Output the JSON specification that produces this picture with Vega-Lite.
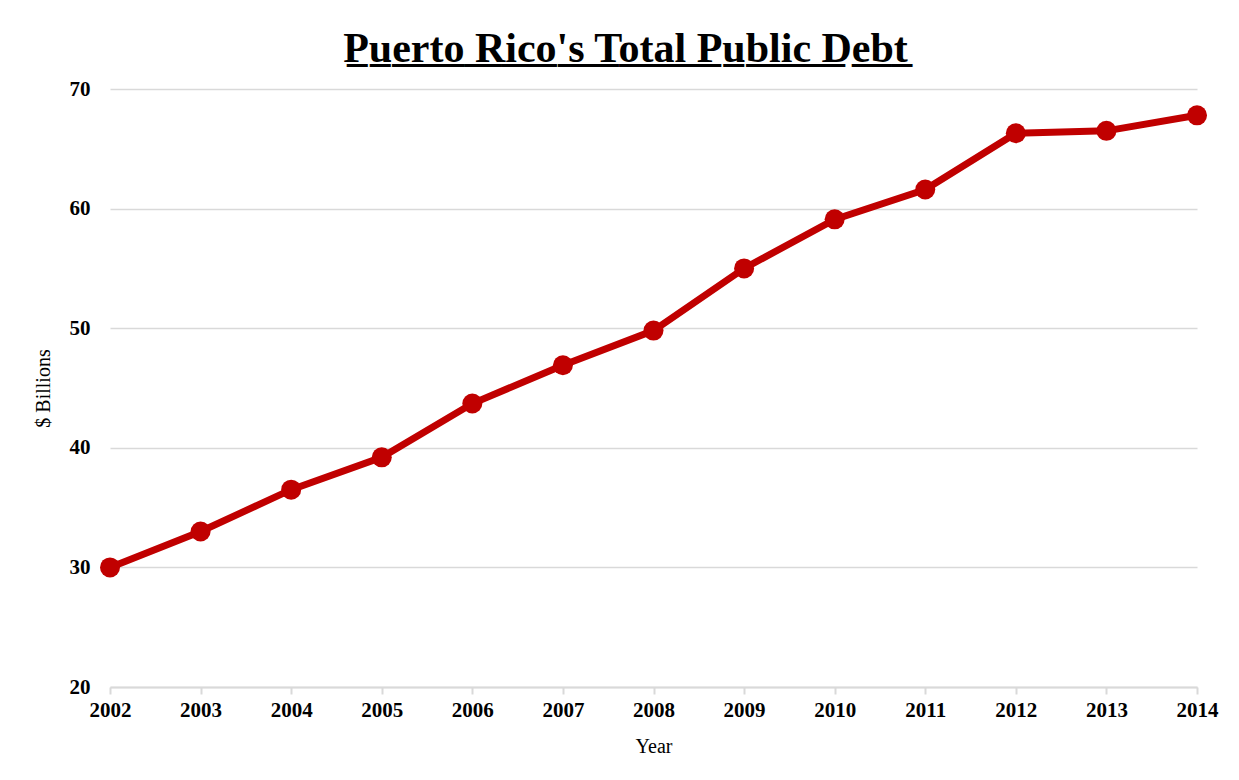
{
  "$schema": "https://vega.github.io/schema/vega-lite/v6.json",
  "width": 1087,
  "height": 598,
  "autosize": {"type": "none"},
  "padding": {"left": 110, "top": 89, "right": 42, "bottom": 93},
  "background": "white",
  "title": {
    "text": "P̲u̲e̲r̲t̲o̲ ̲R̲i̲c̲o̲'̲s̲ ̲T̲o̲t̲a̲l̲ ̲P̲u̲b̲l̲i̲c̲ ̲D̲e̲b̲t̲",
    "font": "Liberation Serif",
    "fontSize": 42,
    "fontWeight": "bold",
    "color": "#000000",
    "anchor": "middle",
    "frame": "group",
    "dx": -28,
    "offset": 7
  },
  "data": {
    "values": [
      {"year": "2002", "debt": 30.0},
      {"year": "2003", "debt": 33.0},
      {"year": "2004", "debt": 36.5},
      {"year": "2005", "debt": 39.2},
      {"year": "2006", "debt": 43.7},
      {"year": "2007", "debt": 46.9},
      {"year": "2008", "debt": 49.8},
      {"year": "2009", "debt": 55.0},
      {"year": "2010", "debt": 59.1},
      {"year": "2011", "debt": 61.6},
      {"year": "2012", "debt": 66.3},
      {"year": "2013", "debt": 66.5},
      {"year": "2014", "debt": 67.8}
    ]
  },
  "encoding": {
    "x": {
      "field": "year",
      "type": "ordinal",
      "scale": {"type": "point", "padding": 0},
      "axis": {
        "title": "Year",
        "titleFont": "Liberation Serif",
        "titleFontSize": 20,
        "titleFontWeight": "normal",
        "titleColor": "#000000",
        "titlePadding": 16,
        "labelFont": "Liberation Serif",
        "labelFontSize": 21,
        "labelFontWeight": "bold",
        "labelColor": "#000000",
        "labelAngle": 0,
        "labelPadding": 5,
        "domainColor": "#d9d9d9",
        "domainWidth": 2,
        "tickColor": "#d9d9d9",
        "tickWidth": 2,
        "tickSize": 7,
        "grid": false
      }
    },
    "y": {
      "field": "debt",
      "type": "quantitative",
      "scale": {"domain": [20, 70], "nice": false, "zero": false},
      "axis": {
        "title": "$ Billions",
        "titleFont": "Liberation Serif",
        "titleFontSize": 20,
        "titleFontWeight": "normal",
        "titleColor": "#000000",
        "titlePadding": 16,
        "labelFont": "Liberation Serif",
        "labelFontSize": 21,
        "labelFontWeight": "bold",
        "labelColor": "#000000",
        "labelPadding": 20,
        "values": [20, 30, 40, 50, 60, 70],
        "domain": false,
        "ticks": false,
        "gridColor": "#d9d9d9",
        "gridWidth": 1.5
      }
    }
  },
  "layer": [
    {"mark": {"type": "line", "color": "#c00000", "strokeWidth": 7}},
    {"mark": {"type": "point", "filled": true, "color": "#c00000", "opacity": 1, "size": 400}}
  ],
  "config": {"view": {"stroke": null}}
}
